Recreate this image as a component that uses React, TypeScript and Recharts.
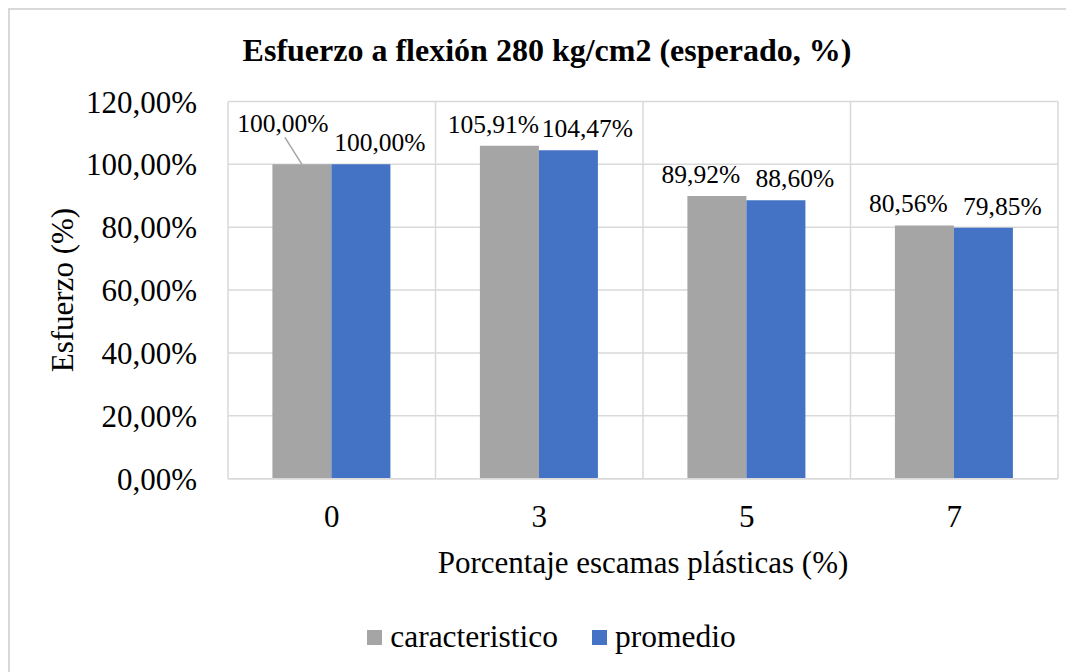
import React from 'react';
import { BarChart, Bar, XAxis, YAxis, CartesianGrid, Legend, LabelList } from 'recharts';

const categories = ['0', '3', '5', '7'];
const caracteristico = [100.0, 105.91, 89.92, 80.56];
const promedio = [100.0, 104.47, 88.6, 79.85];
const yTicks = [0, 20, 40, 60, 80, 100, 120];
const seriesNames = ['caracteristico', 'promedio'];

const data = categories.map((c, i) => ({
  cat: c,
  caracteristico: caracteristico[i],
  promedio: promedio[i],
}));

const FONT = "'Liberation Serif', 'Times New Roman', serif";
const GRID = '#d9d9d9';
const GRAY = '#a5a5a5';
const BLUE = '#4472c4';

const fmt = (v: number) => v.toFixed(2).replace('.', ',') + '%';

const makeLabel = (dx: number, special: boolean) => (props: any) => {
  const { x, y, width, value, index } = props;
  const cx = Number(x) + Number(width) / 2;
  const top = Number(y);
  if (special && index === 0) {
    const lx = cx + dx - 3;
    const ly = top - 32;
    return (
      <g>
        <line x1={lx + 2} y1={ly + 5} x2={cx} y2={top} stroke="#a5a5a5" strokeWidth={1.5} />
        <text x={lx} y={ly} textAnchor="middle" fontFamily={FONT} fontSize={25.5} fill="#000">
          {fmt(Number(value))}
        </text>
      </g>
    );
  }
  return (
    <text x={cx + dx} y={top - 13} textAnchor="middle" fontFamily={FONT} fontSize={25.5} fill="#000">
      {fmt(Number(value))}
    </text>
  );
};

const renderLegend = (props: any) => {
  const payload = props.payload || [];
  return (
    <div
      style={{
        display: 'flex',
        justifyContent: 'center',
        alignItems: 'center',
        height: 40,
        paddingLeft: 19,
        fontFamily: FONT,
        fontSize: 31.5,
        color: '#000',
      }}
    >
      {payload.map((p: any, i: number) => (
        <div key={i} style={{ display: 'flex', alignItems: 'center', marginRight: i === payload.length - 1 ? 0 : 34 }}>
          <span style={{ display: 'inline-block', width: 15, height: 15, background: p.color, marginRight: 8 }} />
          <span>{p.value}</span>
        </div>
      ))}
    </div>
  );
};

export default function App() {
  return (
    <div
      style={{
        position: 'relative',
        width: 1066,
        height: 664,
        boxSizing: 'border-box',
        borderTop: `2px solid ${GRID}`,
        borderLeft: `2px solid ${GRID}`,
        background: '#fff',
      }}
    >
      <div
        style={{
          position: 'absolute',
          top: 24,
          left: 10,
          right: 0,
          textAlign: 'center',
          fontFamily: FONT,
          fontWeight: 'bold',
          fontSize: 32,
          lineHeight: '32px',
          color: '#000',
          zIndex: 2,
        }}
      >
        Esfuerzo a flexión 280 kg/cm2 (esperado, %)
      </div>
      <BarChart
        width={1064}
        height={662}
        data={data}
        margin={{ top: 91.5, right: 16, bottom: 15, left: 0 }}
        barCategoryGap="21.4%"
        barGap={0}
      >
        <CartesianGrid
          stroke={GRID}
          strokeWidth={1.5}
          verticalCoordinatesGenerator={(p: any) => {
            const o = p.offset;
            return [0, 1, 2, 3, 4].map((i) => o.left + (i * o.width) / 4);
          }}
        />
        <XAxis
          dataKey="cat"
          height={138.3}
          axisLine={{ stroke: GRID, strokeWidth: 1.5 }}
          tickLine={false}
          tickSize={0}
          tickMargin={26}
          tick={{ fontFamily: FONT, fontSize: 31, fill: '#000' }}
          label={{
            value: 'Porcentaje escamas plásticas (%)',
            position: 'insideBottom',
            offset: 44,
            style: { fontFamily: FONT, fontSize: 31, fill: '#000' },
          }}
        />
        <YAxis
          width={218}
          domain={[0, 120]}
          ticks={yTicks}
          tickFormatter={fmt}
          axisLine={false}
          tickLine={false}
          tickSize={0}
          tickMargin={31}
          tick={{ fontFamily: FONT, fontSize: 31, fill: '#000' }}
          label={{
            value: 'Esfuerzo (%)',
            angle: -90,
            position: 'insideLeft',
            offset: 52,
            style: { fontFamily: FONT, fontSize: 31, fill: '#000', textAnchor: 'middle' },
          }}
        />
        <Legend verticalAlign="bottom" height={40} wrapperStyle={{ left: 0, width: 1064 }} content={renderLegend} />
        <Bar dataKey="caracteristico" name={seriesNames[0]} fill={GRAY} isAnimationActive={false}>
          <LabelList dataKey="caracteristico" content={makeLabel(-16, true)} />
        </Bar>
        <Bar dataKey="promedio" name={seriesNames[1]} fill={BLUE} isAnimationActive={false}>
          <LabelList dataKey="promedio" content={makeLabel(19, false)} />
        </Bar>
      </BarChart>
    </div>
  );
}
